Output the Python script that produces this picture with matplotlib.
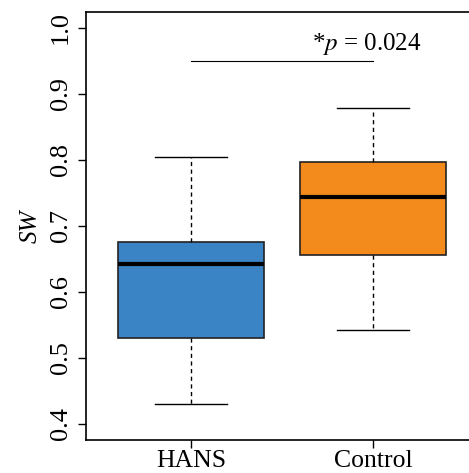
import matplotlib
matplotlib.use("Agg")
import matplotlib.pyplot as plt

# SW values per group
groups = ["HANS", "Control"]
whislo = [0.431, 0.542]
q1 = [0.530, 0.656]
med = [0.642, 0.744]
q3 = [0.676, 0.797]
whishi = [0.805, 0.878]
colors = ["#3A83C5", "#F28A1C"]
yticks = [0.4, 0.5, 0.6, 0.7, 0.8, 0.9, 1.0]
sig_y = 0.95
sig_text = "0.024"

plt.rcParams["font.family"] = ["Liberation Serif", "DejaVu Serif"]

fig = plt.figure(figsize=(4.69, 4.73), dpi=100)
ax = fig.add_axes([0.1834, 0.0698, 0.8358, 0.9049])

stats = []
for i, g in enumerate(groups):
    stats.append({"label": g, "whislo": whislo[i], "q1": q1[i], "med": med[i],
                  "q3": q3[i], "whishi": whishi[i], "fliers": []})

bp = ax.bxp(stats, positions=[1, 2], widths=0.8, patch_artist=True,
            showfliers=False,
            boxprops=dict(linewidth=1.2, edgecolor="#222222"),
            medianprops=dict(color="black", linewidth=3),
            whiskerprops=dict(color="black", linestyle=(0, (3, 2.5)), linewidth=1),
            capprops=dict(color="black", linewidth=1),
            capwidths=0.4)
for patch, c in zip(bp["boxes"], colors):
    patch.set_facecolor(c)

# significance bar
ax.plot([1, 2], [sig_y, sig_y], color="black", linewidth=0.8)
ax.text(1.665, 0.975, "*$\\it{p}$ = " + sig_text, fontsize=18, ha="left", va="center",
        math_fontfamily="stix")

ax.set_xlim(0.423, 2.577)
ax.set_ylim(0.3758, 1.0242)
ax.set_yticks(yticks)
ax.set_yticklabels([f"{v:.1f}" for v in yticks], rotation=90, va="center", fontsize=19)
ax.set_xticks([1, 2])
ax.set_xticklabels(groups, fontsize=18.5)
ax.tick_params(axis="both", length=6, width=1, pad=4)
ax.tick_params(axis="x", pad=1)
ax.set_ylabel("SW", fontsize=18, style="italic", labelpad=6)
for s in ax.spines.values():
    s.set_linewidth(1.2)

fig.savefig("out.png", dpi=100)
